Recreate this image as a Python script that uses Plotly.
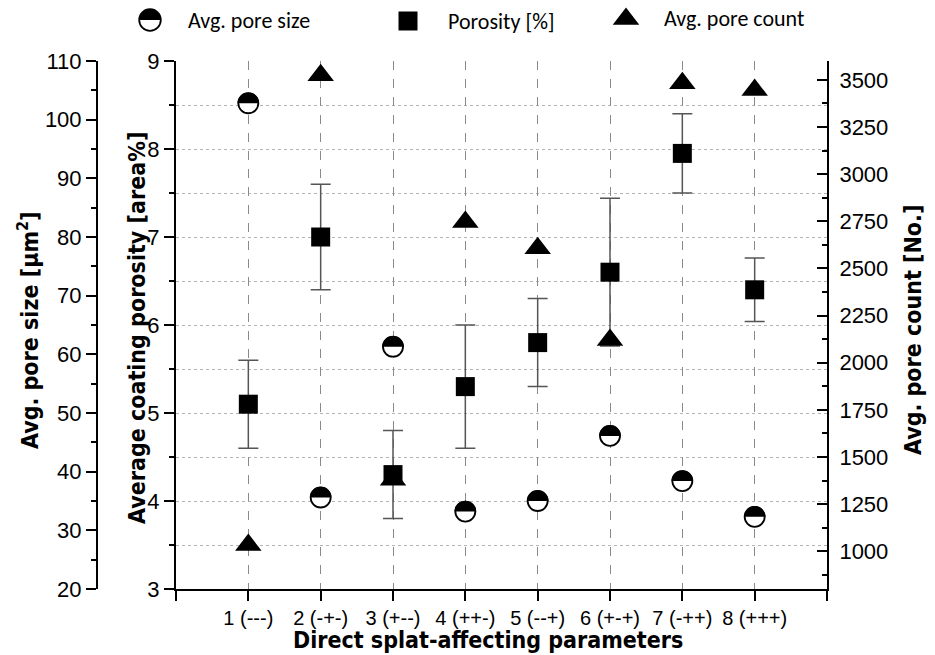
import plotly.graph_objects as go

# ---------------- data ----------------
categories = ["1 (---)", "2 (-+-)", "3 (+--)", "4 (++-)", "5 (--+)", "6 (+-+)", "7 (-++)", "8 (+++)"]
cat_pos = [1, 2, 3, 4, 5, 6, 7, 8]
pore_size = [102.8, 35.6, 61.3, 33.2, 35.0, 46.1, 38.4, 32.3]
porosity = [5.10, 7.00, 4.30, 5.30, 5.80, 6.60, 7.95, 6.40]
porosity_err = [0.50, 0.60, 0.50, 0.70, 0.50, 0.84, 0.45, 0.36]
pore_count = [1033, 3525, 1380, 2746, 2607, 2120, 3482, 3446]

W, H = 935, 655
left_px, right_px, top_px, bot_px = 176, 827, 61, 589
xd = [left_px / W, right_px / W]
yd = [1 - bot_px / H, 1 - top_px / H]

TICKFONT = dict(family="Liberation Sans, Arial, sans-serif", size=22, color="black")
TITLEFONT = dict(family="Liberation Sans Narrow, DejaVu Sans Condensed, Arial Narrow, Liberation Sans, sans-serif",
                 size=23, color="black", weight="bold")
LEGFONT = dict(family="Carlito, Open Sans, sans-serif", size=22, color="black")

fig = go.Figure()

# pore count (triangles) on right axis
fig.add_trace(go.Scatter(
    x=cat_pos, y=pore_count, yaxis="y3", mode="markers", name="Avg. pore count",
    marker=dict(symbol="triangle-up", size=23, color="black", line=dict(width=0)),
    showlegend=False))

# porosity (squares) with error bars
fig.add_trace(go.Scatter(
    x=cat_pos, y=porosity, yaxis="y", mode="markers", name="Porosity [%]",
    marker=dict(symbol="square", size=19, color="black", line=dict(width=0)),
    error_y=dict(type="data", array=porosity_err, visible=True, color="#555555",
                 thickness=1.5, width=10),
    showlegend=False))

# pore size (half-filled circles) on offset left axis
fig.add_trace(go.Scatter(
    x=cat_pos, y=pore_size, yaxis="y2", mode="markers", name="Avg. pore size",
    marker=dict(symbol="circle", size=20, color="white", line=dict(width=1.8, color="black")),
    showlegend=False))

R = 10.8
k = 0.5523 * R
half_top = f"M {-R},0 C {-R},{k} {-k},{R} 0,{R} C {k},{R} {R},{k} {R},0 Z"

shapes = []
for xv, yv in zip(cat_pos, pore_size):
    shapes.append(dict(type="path", xref="x", yref="y2", xsizemode="pixel", ysizemode="pixel",
                       xanchor=xv, yanchor=yv, path=half_top,
                       fillcolor="black", line=dict(width=0), layer="above"))

# ---------- manual legend ----------
def px(xp):
    return xp / W

def py(yp):
    return 1 - yp / H

full_circle = (f"M {-R},0 C {-R},{k} {-k},{R} 0,{R} C {k},{R} {R},{k} {R},0 "
               f"C {R},{-k} {k},{-R} 0,{-R} C {-k},{-R} {-R},{-k} {-R},0 Z")
leg_items = [
    ("Avg. pore size", 150, 20, 186),
    ("Porosity [%]", 408, 21, 446),
    ("Avg. pore count", 626, 19, 662),
]
shapes.append(dict(type="path", xref="paper", yref="paper", xsizemode="pixel", ysizemode="pixel",
                   xanchor=px(150), yanchor=py(20), path=full_circle,
                   fillcolor="white", line=dict(width=1.8, color="black")))
shapes.append(dict(type="path", xref="paper", yref="paper", xsizemode="pixel", ysizemode="pixel",
                   xanchor=px(150), yanchor=py(20), path=half_top,
                   fillcolor="black", line=dict(width=0)))
sq = 9.5
shapes.append(dict(type="path", xref="paper", yref="paper", xsizemode="pixel", ysizemode="pixel",
                   xanchor=px(408), yanchor=py(21),
                   path=f"M {-sq},{-sq} L {sq},{-sq} L {sq},{sq} L {-sq},{sq} Z",
                   fillcolor="black", line=dict(width=0)))
tr = 11.5
rt = tr * 2 / 3 ** 0.5
shapes.append(dict(type="path", xref="paper", yref="paper", xsizemode="pixel", ysizemode="pixel",
                   xanchor=px(626), yanchor=py(19),
                   path=f"M {-rt},{-tr/2} L {rt},{-tr/2} L 0,{tr} Z",
                   fillcolor="black", line=dict(width=0)))

annotations = []
for label, sx, sy, tx in leg_items:
    annotations.append(dict(text=label, x=px(tx), y=py(sy), xref="paper", yref="paper",
                            xanchor="left", yanchor="middle", showarrow=False, font=LEGFONT))

annotations.append(dict(text="Direct splat-affecting parameters", x=px(488), y=py(640),
                        xref="paper", yref="paper", xanchor="center", yanchor="middle",
                        showarrow=False, font=TITLEFONT))
annotations.append(dict(text="Average coating porosity [area%]", x=px(137), y=py(328),
                        xref="paper", yref="paper", xanchor="center", yanchor="middle",
                        textangle=-90, showarrow=False, font=TITLEFONT))
annotations.append(dict(text="Avg. pore size [µm<sup>2</sup>]", x=px(28), y=py(330),
                        xref="paper", yref="paper", xanchor="center", yanchor="middle",
                        textangle=-90, showarrow=False, font=TITLEFONT))
annotations.append(dict(text="Avg. pore count [No.]", x=px(913), y=py(330),
                        xref="paper", yref="paper", xanchor="center", yanchor="middle",
                        textangle=-90, showarrow=False, font=TITLEFONT))

fig.update_layout(
    width=W, height=H, autosize=False,
    margin=dict(l=0, r=0, t=0, b=0, pad=0, autoexpand=False),
    paper_bgcolor="white", plot_bgcolor="white",
    showlegend=False,
    shapes=shapes, annotations=annotations,
    xaxis=dict(domain=xd, range=[0, 9], tickmode="array", tickvals=cat_pos, ticktext=categories,
               showline=True, linecolor="black", linewidth=2, ticks="outside", ticklen=10,
               tickwidth=2, tickcolor="black", tickfont=dict(TICKFONT, size=20),
               showgrid=True, gridcolor="#8a8a8a", griddash="dash", gridwidth=1,
               minor=dict(tick0=0, dtick=1, ticks="outside", ticklen=10, tickwidth=2,
                          tickcolor="black", showgrid=False),
               zeroline=False, fixedrange=True, automargin=False),
    yaxis=dict(domain=yd, range=[3, 9], dtick=1, tick0=3, anchor="x", side="left",
               showline=True, linecolor="black", linewidth=2, ticks="outside", ticklen=10,
               tickwidth=2, tickcolor="black", tickfont=TICKFONT,
               showgrid=True, gridcolor="#b4b4b4", griddash="dot", gridwidth=1,
               minor=dict(dtick=0.5, ticks="outside", ticklen=5, tickwidth=2, tickcolor="black",
                          showgrid=True, gridcolor="#b4b4b4", griddash="dot", gridwidth=1),
               zeroline=False, fixedrange=True, automargin=False),
    yaxis2=dict(overlaying="y", anchor="free", position=97 / W, side="left",
                range=[20, 110], dtick=10, tick0=20,
                showline=True, linecolor="black", linewidth=2, ticks="outside", ticklen=10,
                tickwidth=2, tickcolor="black", tickfont=TICKFONT,
                minor=dict(dtick=5, ticks="outside", ticklen=5, tickwidth=2, tickcolor="black"),
                showgrid=False, zeroline=False, fixedrange=True, automargin=False),
    yaxis3=dict(overlaying="y", anchor="x", side="right",
                range=[800, 3600], dtick=250, tick0=1000,
                showline=True, linecolor="black", linewidth=2, ticks="inside", ticklen=10,
                tickwidth=2, tickcolor="black", tickfont=TICKFONT, ticklabelstandoff=6,
                minor=dict(dtick=125, ticks="inside", ticklen=5, tickwidth=2, tickcolor="black"),
                showgrid=False, zeroline=False, fixedrange=True, automargin=False),
)

fig.write_html("out.html")
